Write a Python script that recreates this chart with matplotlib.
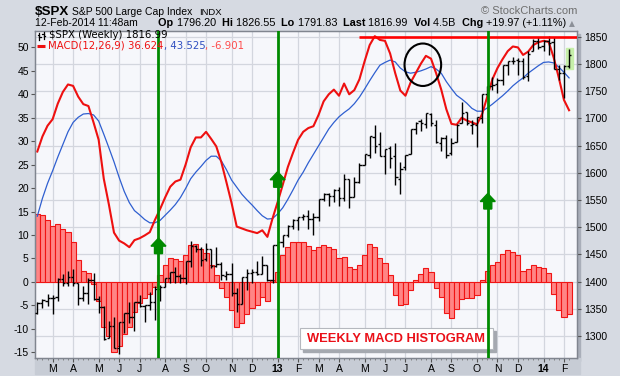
import matplotlib
matplotlib.use("Agg")
import matplotlib.pyplot as plt
from matplotlib.patches import Rectangle, Ellipse, Polygon
from matplotlib.collections import LineCollection
from matplotlib.lines import Line2D
import pandas as pd

plt.rcParams['font.family'] = ['Liberation Sans', 'DejaVu Sans']

# ---- weekly data, 13-Feb-2012 .. 10-Feb-2014 -------------------------------
weeks = pd.date_range('2012-02-13', '2014-02-10', freq='W-MON')

opens = [1343.1, 1361.2, 1365.2, 1369.6, 1371.0, 1404.2, 1397.1, 1408.5, 1397.5, 1370.3,
         1378.5, 1403.3, 1368.8, 1352.9, 1295.7, 1318.9, 1278.3, 1325.9, 1342.4, 1334.9,
         1362.3, 1354.7, 1356.5, 1362.3, 1385.9, 1391.0, 1405.9, 1418.1, 1411.1, 1406.5,
         1437.9, 1465.4, 1460.0, 1440.9, 1460.9, 1428.8, 1433.2, 1411.0, 1414.0, 1380.0,
         1359.9, 1409.2, 1416.3, 1418.1, 1413.5, 1430.2, 1402.4, 1466.5, 1472.1, 1486.0,
         1503.0, 1513.2, 1517.9, 1519.8, 1515.6, 1518.2, 1551.2, 1560.7, 1556.9, 1569.2,
         1553.3, 1588.9, 1555.3, 1582.3, 1614.4, 1632.1, 1665.7, 1652.6, 1631.7, 1644.7,
         1630.6, 1588.8, 1609.8, 1634.2, 1679.6, 1694.4, 1690.3, 1708.0, 1688.4, 1655.3,
         1664.3, 1636.0, 1656.9, 1691.7, 1711.4, 1687.3, 1687.2, 1699.9, 1745.2, 1759.4,
         1763.4, 1770.0, 1798.8, 1806.3, 1806.6, 1806.2, 1777.5, 1822.9, 1841.5, 1832.3,
         1841.3, 1841.1, 1791.0, 1782.7, 1796.2]
highs = [1363.4, 1368.9, 1378.0, 1374.8, 1405.9, 1414.0, 1419.2, 1422.4, 1397.5, 1392.8,
         1406.6, 1415.3, 1373.9, 1355.3, 1328.5, 1334.9, 1326.5, 1343.3, 1363.5, 1362.2,
         1374.8, 1357.4, 1380.4, 1391.7, 1394.2, 1405.9, 1418.7, 1426.7, 1413.5, 1438.0,
         1474.5, 1467.1, 1463.1, 1471.0, 1460.9, 1464.0, 1435.5, 1420.0, 1433.4, 1388.8,
         1409.2, 1424.0, 1423.7, 1438.6, 1448.0, 1430.7, 1467.9, 1472.8, 1485.2, 1503.3,
         1514.4, 1518.3, 1524.7, 1530.9, 1525.8, 1552.5, 1563.6, 1563.6, 1570.3, 1573.7,
         1597.4, 1588.9, 1592.6, 1618.5, 1633.7, 1667.5, 1687.2, 1674.2, 1644.4, 1648.7,
         1654.2, 1620.1, 1632.1, 1680.2, 1693.1, 1698.0, 1709.7, 1709.2, 1696.8, 1664.9,
         1669.5, 1664.8, 1690.0, 1729.9, 1711.4, 1696.6, 1703.4, 1745.3, 1759.8, 1775.2,
         1774.5, 1798.2, 1804.8, 1813.6, 1810.0, 1811.5, 1823.8, 1844.9, 1849.4, 1843.2,
         1850.8, 1849.3, 1798.8, 1798.0, 1826.6]
lows = [1340.8, 1352.3, 1354.9, 1340.0, 1365.0, 1391.6, 1391.6, 1392.9, 1357.4, 1365.4,
        1358.8, 1367.0, 1343.1, 1292.0, 1295.7, 1277.8, 1266.7, 1306.6, 1324.4, 1309.3,
        1353.4, 1325.4, 1348.5, 1329.2, 1365.4, 1391.0, 1397.3, 1398.0, 1397.0, 1396.6,
        1426.9, 1454.8, 1429.1, 1438.8, 1425.5, 1427.2, 1403.3, 1403.9, 1373.0, 1343.4,
        1359.9, 1385.4, 1398.2, 1412.3, 1413.5, 1401.4, 1398.1, 1451.6, 1463.8, 1482.0,
        1496.3, 1495.0, 1513.6, 1497.3, 1485.0, 1512.0, 1547.4, 1538.6, 1546.2, 1539.5,
        1548.6, 1536.0, 1555.3, 1581.3, 1614.4, 1626.7, 1635.5, 1630.7, 1598.2, 1608.1,
        1577.7, 1560.3, 1604.6, 1634.2, 1672.1, 1676.0, 1681.9, 1686.0, 1654.2, 1639.4,
        1627.5, 1633.4, 1656.9, 1691.7, 1687.1, 1670.4, 1646.5, 1692.1, 1740.6, 1752.7,
        1746.2, 1760.6, 1780.0, 1800.6, 1779.1, 1772.3, 1768.0, 1822.9, 1827.7, 1823.7,
        1815.8, 1790.3, 1770.5, 1737.9, 1791.8]
closes = [1361.2, 1365.7, 1370.0, 1370.9, 1404.2, 1397.1, 1408.5, 1398.1, 1370.3, 1378.5,
          1403.4, 1369.1, 1353.4, 1295.2, 1317.8, 1278.0, 1325.7, 1342.8, 1335.0, 1362.2,
          1354.7, 1356.8, 1362.7, 1386.0, 1391.0, 1405.9, 1418.2, 1411.1, 1406.6, 1437.9,
          1465.8, 1460.2, 1440.7, 1460.9, 1428.6, 1433.2, 1411.9, 1414.2, 1379.9, 1359.9,
          1409.2, 1416.2, 1418.1, 1413.6, 1430.2, 1402.4, 1466.5, 1472.1, 1486.0, 1503.0,
          1513.2, 1517.9, 1519.8, 1515.6, 1518.2, 1551.2, 1560.7, 1556.9, 1569.2, 1553.3,
          1588.9, 1555.3, 1582.2, 1614.4, 1633.7, 1667.5, 1649.6, 1630.7, 1643.4, 1626.7,
          1592.4, 1606.3, 1631.9, 1680.2, 1692.1, 1691.7, 1709.7, 1691.4, 1655.8, 1663.5,
          1633.0, 1655.2, 1688.0, 1709.9, 1691.8, 1690.5, 1703.2, 1744.5, 1759.8, 1761.6,
          1770.6, 1798.2, 1804.8, 1805.8, 1805.1, 1775.3, 1818.3, 1841.4, 1831.4, 1842.4,
          1838.7, 1790.3, 1782.6, 1797.0, 1817.0]

macd = [27.8, 31.0, 33.3, 34.7, 38.0, 40.5, 42.1, 41.8, 39.5, 37.9,
        37.5, 34.0, 30.3, 22.0, 16.5, 10.5, 8.8, 8.2, 7.4, 8.9,
        9.3, 9.9, 10.6, 13.2, 15.5, 18.0, 20.3, 21.4, 21.8, 25.0,
        28.7, 30.8, 30.8, 32.0, 30.5, 28.9, 25.5, 21.2, 16.8, 11.8,
        11.4, 11.0, 10.7, 10.4, 11.0, 9.6, 13.5, 17.0, 20.7, 24.5,
        27.5, 30.3, 32.0, 32.8, 33.2, 35.6, 38.5, 40.0, 41.0, 39.7,
        42.3, 40.0, 40.9, 43.2, 47.0, 50.5, 52.4, 51.6, 51.4, 48.7,
        44.5, 40.8, 39.7, 42.5, 44.5, 46.5, 48.2, 47.6, 44.5, 41.0,
        36.8, 33.7, 33.5, 35.0, 34.4, 34.0, 33.6, 35.8, 39.5, 43.2,
        45.6, 47.5, 49.2, 50.2, 50.0, 48.4, 49.1, 50.5, 51.1, 51.4,
        51.2, 47.8, 43.5, 38.8, 36.6]
signal = [14.0, 17.8, 21.0, 23.7, 26.6, 29.3, 32.0, 34.0, 35.1, 35.8,
          35.9, 35.6, 34.3, 31.5, 28.6, 25.6, 22.3, 19.3, 16.9, 15.2,
          14.3, 13.3, 12.6, 12.6, 13.1, 14.2, 15.3, 16.5, 18.0, 19.9,
          22.0, 23.4, 24.6, 25.9, 26.8, 26.8, 25.8, 23.9, 21.7, 20.2,
          18.7, 17.5, 16.4, 15.2, 14.1, 13.4, 13.5, 14.5, 15.8, 17.6,
          19.6, 21.7, 23.4, 25.4, 27.2, 29.0, 30.8, 32.6, 34.0, 35.2,
          36.1, 36.9, 38.0, 39.4, 41.1, 42.9, 44.6, 46.2, 46.8, 47.3,
          46.9, 45.6, 44.8, 44.5, 44.7, 45.0, 45.4, 45.9, 45.4, 44.5,
          42.7, 41.2, 39.8, 39.0, 38.1, 37.0, 36.4, 36.4, 37.1, 37.9,
          38.8, 39.7, 40.7, 41.8, 42.7, 43.5, 44.5, 45.3, 46.1, 46.8,
          46.9, 46.7, 45.8, 44.7, 43.5]
hist = [14.4, 14.3, 13.2, 12.0, 12.3, 11.3, 10.7, 8.4, 4.6, 2.4,
        1.9, -0.5, -4.0, -9.6, -11.6, -15.0, -13.7, -11.1, -9.7, -6.5,
        -4.5, -3.5, -2.6, -1.0, 1.5, 3.5, 5.0, 4.9, 4.5, 5.8,
        7.9, 8.0, 7.1, 6.2, 3.6, 1.5, -1.4, -3.2, -6.0, -9.7,
        -8.7, -6.9, -5.6, -4.9, -3.2, -4.0, 0.4, 2.2, 5.7, 7.5,
        8.4, 8.6, 8.6, 7.6, 6.8, 7.5, 7.8, 7.4, 7.0, 5.0,
        5.4, 3.2, 2.7, 3.6, 5.7, 8.1, 7.5, 5.2, 4.1, 1.5,
        -2.8, -4.9, -4.7, -1.8, 0.5, 1.6, 2.9, 2.2, -1.4, -3.3,
        -6.7, -7.6, -5.8, -3.7, -3.4, -3.5, -2.8, 0.3, 2.3, 3.5,
        4.2, 6.0, 6.7, 6.4, 5.7, 2.4, 2.7, 3.7, 3.1, 2.9,
        1.8, -2.5, -5.9, -7.5, -6.9]

macd_ticks = list(range(-15, 51, 5))
price_ticks = list(range(1300, 1851, 50))
signal_weeks = [23.7, 47.0, 88.1]        # green buy-signal lines
arrow_tips = [1480, 1602, 1562]

idx = list(range(len(weeks)))

# ---- figure / axes geometry (pixels) ----------------------------------------
W, H = 620, 376
L, R, T, B = 35, 577, 31, 358
def fx(px): return px / W
def fy(py): return 1 - py / H

fig = plt.figure(figsize=(W / 100, H / 100), dpi=100)
fig.patch.set_facecolor('#D6DAE2')

# plot shadow + date band
fig.add_artist(Rectangle((fx(L + 3), fy(B + 3)), (R - L) / W, (B - T) / H,
                         transform=fig.transFigure, color='#A9AEB9', zorder=-2))
fig.add_artist(Rectangle((fx(L), fy(374)), (R - L + 3) / W, 16 / H,
                         transform=fig.transFigure, color='#C7CCD5', zorder=-1))

ax = fig.add_axes([fx(L), fy(B), (R - L) / W, (B - T) / H])
ax.set_facecolor('#F6F7FB')
ax2 = ax.twinx()

xlo, xhi = -0.45, 105.55
mlo, mhi = -16.23, 53.5
plo, phi = 1259.8, 1860.5
ax.set_xlim(xlo, xhi)
ax.set_ylim(mlo, mhi)
ax2.set_ylim(plo, phi)

# grid (price levels, month starts)
grid_c = '#D3D6DE'
for p in price_ticks:
    v = mlo + (p - plo) * (mhi - mlo) / (phi - plo)
    ax.axhline(v, color=grid_c, lw=0.9, zorder=0.5)

month_idx = [i for i in range(1, len(weeks)) if weeks[i].month != weeks[i - 1].month]
month_lab = [('%02d' % (weeks[i].year % 100)) if weeks[i].month == 1
             else 'JFMAMJJASOND'[weeks[i].month - 1] for i in month_idx]
for i in month_idx:
    ax.axvline(i, color=grid_c, lw=0.9, zorder=0.5)

# histogram + MACD lines
ax.bar(idx, hist, width=1.0, color='#FF8585', edgecolor='#F01414', linewidth=0.8, zorder=2)
ax.plot(idx, signal, color='#2F5FD0', lw=0.9, zorder=3)
ax.plot(idx, macd, color='#EE1010', lw=1.5, zorder=3)

# price bars
ax2.add_patch(Rectangle((103.45, 1790), 1.25, 39, color='#C6EFA9', zorder=1))
segs = []
for j in idx:
    segs.append([(j, lows[j]), (j, highs[j])])
    segs.append([(j - 0.45, opens[j]), (j, opens[j])])
    segs.append([(j, closes[j]), (j + 0.45, closes[j])])
ax2.add_collection(LineCollection(segs, colors='black', linewidths=1.0, zorder=3))

# label box (under the green lines)
ax2.add_patch(Rectangle((fx(303), fy(352.3)), 192.7 / W, 21 / H, transform=fig.transFigure,
                        color='#A5A9B0', zorder=4, clip_on=False))
ax2.add_patch(Rectangle((fx(300), fy(349.3)), 192.7 / W, 21 / H, transform=fig.transFigure,
                        fc='white', ec='#B5B8BE', lw=0.8, zorder=4.1, clip_on=False))
ax2.text(fx(396.3), fy(339), 'WEEKLY MACD HISTOGRAM', transform=fig.transFigure,
         fontsize=9.3, fontweight='bold', color='#EA1018', ha='center', va='center', zorder=4.2)

# annotations
ax2.plot([62.9, xhi], [1850, 1850], color='#FF0000', lw=1.9, zorder=5, solid_capstyle='butt')
ax2.add_patch(Ellipse((75.4, 1798.5), 7.16, 78, fill=False, ec='black', lw=1.5, zorder=5))

wk_px = (xhi - xlo) / (R - L)
pr_px = (phi - plo) / (B - T)
for xw, tip in zip(signal_weeks, arrow_tips):
    ax2.axvline(xw, color='#008A00', lw=2.0, zorder=6)
    hw, sw = 7.5 * wk_px, 4.0 * wk_px
    hh, th = 8 * pr_px, 15.5 * pr_px
    pts = [(xw, tip), (xw + hw, tip - hh), (xw + sw, tip - hh), (xw + sw, tip - th),
           (xw - sw, tip - th), (xw - sw, tip - hh), (xw - hw, tip - hh)]
    ax2.add_patch(Polygon(pts, closed=True, color='#008A00', zorder=7))

# ---- axes styling -------------------------------------------------------------
ax.set_yticks(macd_ticks)
ax.set_yticklabels([str(t) for t in macd_ticks])
ax2.set_yticks(price_ticks)
ax.set_xticks(month_idx)
ax.set_xticklabels(month_lab)
ax.set_xticks(idx, minor=True)
for lab, i in zip(ax.get_xticklabels(), month_idx):
    if weeks[i].month == 1:
        lab.set_fontweight('bold')
ax.tick_params(axis='x', which='major', length=3, pad=1.5, labelsize=7.5, color='#555555')
ax.tick_params(axis='x', which='minor', length=1.5, color='#777777')
ax.tick_params(axis='y', length=3, pad=1.5, labelsize=7.5, color='#555555')
ax2.tick_params(axis='y', length=3, pad=2, labelsize=7.5, color='#555555')
for a in (ax, ax2):
    for s in a.spines.values():
        s.set_color('#80858F')
        s.set_linewidth(0.9)

# ---- header -------------------------------------------------------------------
fig.text(fx(35), fy(15), '$SPX', fontsize=9.6, fontweight='bold', va='baseline')
fig.text(fx(71.5), fy(15), 'S&P 500 Large Cap Index', fontsize=7.5, va='baseline')
fig.text(fx(199), fy(15), 'INDX', fontsize=6.8, va='baseline')
fig.text(fx(577), fy(14), '\u00a9 StockCharts.com', fontsize=8, ha='right',
         va='baseline', color='#6E6E6E')
fig.text(fx(35), fy(26.5), '12-Feb-2014 11:48am', fontsize=7.5, va='baseline')

renderer = fig.canvas.get_renderer()
def run_text(x, y, parts, size, family=None):
    for s, color, weight in parts:
        kw = dict(fontsize=size, color=color, fontweight=weight, va='baseline')
        if family:
            kw['family'] = family
        t = fig.text(fx(x), fy(y), s, **kw)
        x += t.get_window_extent(renderer).width

quote = [('Op ', 'black', 'bold'), ('1796.20  ', 'black', 'normal'),
         ('Hi ', 'black', 'bold'), ('1826.55  ', 'black', 'normal'),
         ('Lo ', 'black', 'bold'), ('1791.83  ', 'black', 'normal'),
         ('Last ', 'black', 'bold'), ('1816.99  ', 'black', 'normal'),
         ('Vol ', 'black', 'bold'), ('4.5B  ', 'black', 'normal'),
         ('Chg ', 'black', 'bold'), ('+19.97 (+1.11%)', 'black', 'normal')]
run_text(158.5, 26.5, quote, 7.8)
fig.text(fx(569), fy(26), '\u25b2', fontsize=5.5, color='#8C9098', va='baseline',
         family='DejaVu Sans')

# ---- in-chart legend ----------------------------------------------------------
for (x0, y0, x1, y1) in [(39, 33, 39, 39.5), (37.5, 34.5, 39, 34.5), (39, 37, 40.5, 37),
                         (43.5, 32, 43.5, 38.5), (42, 33.5, 43.5, 33.5), (43.5, 35.5, 45, 35.5)]:
    fig.add_artist(Line2D([fx(x0), fx(x1)], [fy(y0), fy(y1)], color='black', lw=0.9,
                          transform=fig.transFigure))
run_text(49, 38.5, [('$SPX (Weekly) 1816.99', 'black', 'normal')], 7.3, 'DejaVu Sans')
fig.add_artist(Line2D([fx(37.3), fx(45)], [fy(45.5), fy(45.5)], color='#EE1010', lw=2.2,
                      transform=fig.transFigure, solid_capstyle='butt'))
run_text(48.3, 48.8, [('MACD(12,26,9) 36.624', '#EE1010', 'normal'),
                      (', 43.525', '#2F4FC0', 'normal'),
                      (', -6.901', '#FF4A4A', 'normal')], 7.3, 'DejaVu Sans')

fig.savefig('out.png', dpi=100, facecolor=fig.get_facecolor())
